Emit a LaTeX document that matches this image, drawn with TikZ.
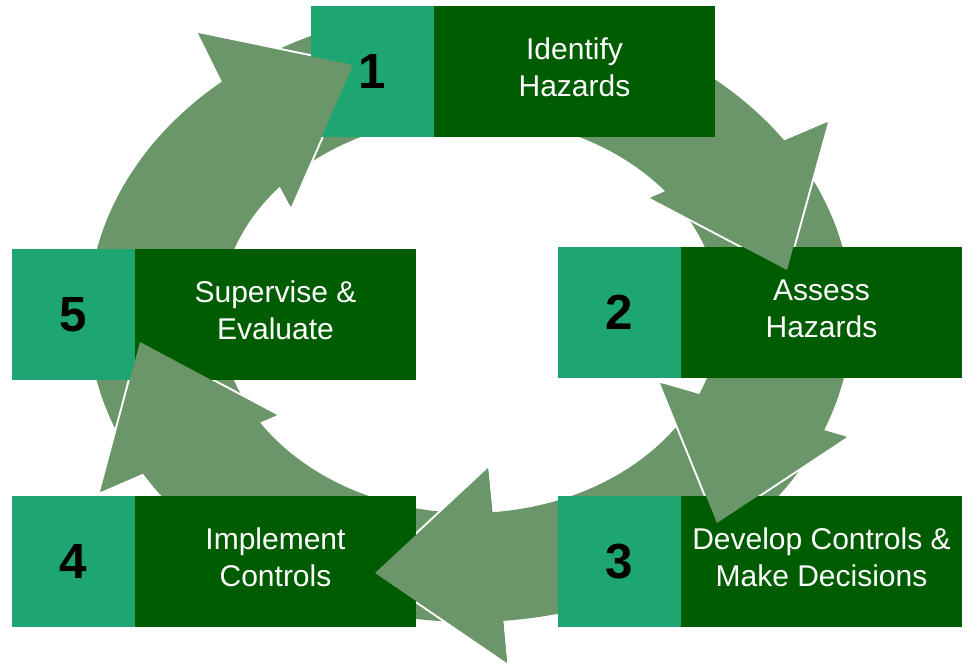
\documentclass[tikz,border=0pt]{standalone}
\usepackage{fontspec}
\setmainfont{Liberation Sans}
\usetikzlibrary{calc}

\definecolor{stepgreen}{RGB}{30,166,114}
\definecolor{boxgreen}{RGB}{0,92,0}
\definecolor{ringgreen}{RGB}{106,150,106}

\tikzset{every picture/.style={line width=0.75pt},
  numbox/.style={fill=stepgreen, minimum width=92.25pt, minimum height=98.25pt, inner sep=0pt, outer sep=0pt, font=\fontsize{37}{40}\selectfont\bfseries},
  txtbox/.style={fill=boxgreen, text=white, minimum width=210.75pt, minimum height=98.25pt, inner sep=0pt, outer sep=0pt, text depth=6pt, align=center, font=\fontsize{22.5}{27.75}\selectfont},
  ringfill/.style={fill=ringgreen},
  headedge/.style={draw=white, line width=3pt}
}

\begin{document}
\begin{tikzpicture}[x=0.75pt,y=0.75pt,yscale=-1,xscale=1]
\useasboundingbox (0,0) rectangle (967,668);
\coordinate (ctr) at (470,315);
%arrow heads: outer wing, tip, inner wing
\coordinate (o1) at (828,122); \coordinate (t1) at (787,270); \coordinate (i1) at (650,198);
\coordinate (o2) at (847,437); \coordinate (t2) at (717,523); \coordinate (i2) at (660,383);
\coordinate (o3) at (507,663); \coordinate (t3) at (375,573); \coordinate (i3) at (488,468);
\coordinate (o4) at (100,492); \coordinate (t4) at (140,342); \coordinate (i4) at (277,415);
\coordinate (o5) at (198,33);  \coordinate (t5) at (353,65);  \coordinate (i5) at (291,207);

%Shape: Circular Arrow [1 to 2]
\fill [ringfill] ($(ctr)+(235:382 and 307)$) arc [start angle=235, end angle=325.4, x radius=382, y radius=307] -- (o1) -- (t1) -- (i1) -- ($(ctr)+(321.4:250 and 198)$) arc [start angle=321.4, end angle=225, x radius=250, y radius=198] -- cycle;
%Shape: Circular Arrow [2 to 3]
\fill [ringfill] ($(ctr)+(-28:382 and 307)$) arc [start angle=-28, end angle=22.1, x radius=382, y radius=307] -- (o2) -- (t2) -- (i2) -- ($(ctr)+(23.6:250 and 198)$) arc [start angle=23.6, end angle=-33, x radius=250, y radius=198] -- cycle;
%Shape: Circular Arrow [3 to 4]
\fill [ringfill] ($(ctr)+(27:382 and 307)$) arc [start angle=27, end angle=85, x radius=382, y radius=307] -- (o3) -- (t3) -- (i3) -- ($(ctr)+(84.9:250 and 198)$) arc [start angle=84.9, end angle=31, x radius=250, y radius=198] -- cycle;
%Shape: Circular Arrow [4 to 5]
\fill [ringfill] ($(ctr)+(92:382 and 307)$) arc [start angle=92, end angle=148.9, x radius=382, y radius=307] -- (o4) -- (t4) -- (i4) -- ($(ctr)+(147.3:250 and 198)$) arc [start angle=147.3, end angle=92, x radius=250, y radius=198] -- cycle;
%Shape: Circular Arrow [5 to 1]
\fill [ringfill] ($(ctr)+(150:382 and 307)$) arc [start angle=150, end angle=229.5, x radius=382, y radius=307] -- (o5) -- (t5) -- (i5) -- ($(ctr)+(220.5:250 and 198)$) arc [start angle=220.5, end angle=150, x radius=250, y radius=198] -- cycle;

%Shape: Heads over the next tail
\fill [ringfill] (o1) -- (t1) -- (i1) -- cycle; \draw [headedge] (o1) -- (t1) -- (i1);
\fill [ringfill] (o2) -- (t2) -- (i2) -- cycle; \draw [headedge] (o2) -- (t2) -- (i2);
\fill [ringfill] (o3) -- (t3) -- (i3) -- cycle; \draw [headedge] (o3) -- (t3) -- (i3);
\fill [ringfill] (o4) -- (t4) -- (i4) -- cycle; \draw [headedge] (o4) -- (t4) -- (i4);
\fill [ringfill] (o5) -- (t5) -- (i5) -- cycle; \draw [headedge] (o5) -- (t5) -- (i5);

% Text Node
\node [numbox, anchor=north west] (num1) at (311,6) {1};
\node [txtbox, anchor=west] (lbl1) at (num1.east) {Identify\\Hazards};
% Text Node
\node [numbox, anchor=north west] (num2) at (558,247) {2};
\node [txtbox, anchor=west] (lbl2) at (num2.east) {Assess\\Hazards};
% Text Node
\node [numbox, anchor=north west] (num3) at (558,496) {3};
\node [txtbox, anchor=west] (lbl3) at (num3.east) {Develop Controls \&\\Make Decisions};
% Text Node
\node [numbox, anchor=north west] (num4) at (12,496) {4};
\node [txtbox, anchor=west] (lbl4) at (num4.east) {Implement\\Controls};
% Text Node
\node [numbox, anchor=north west] (num5) at (12,249) {5};
\node [txtbox, anchor=west] (lbl5) at (num5.east) {Supervise \&\\Evaluate};

%Shape: Heads over the boxes
\fill [ringfill] (o1) -- (t1) -- (i1) -- cycle;
\fill [ringfill] (o2) -- (t2) -- (i2) -- cycle;
\fill [ringfill] (o3) -- (t3) -- (i3) -- cycle;
\fill [ringfill] (o4) -- (t4) -- (i4) -- cycle;
\fill [ringfill] (o5) -- (t5) -- (i5) -- cycle;

\end{tikzpicture}
\end{document}
